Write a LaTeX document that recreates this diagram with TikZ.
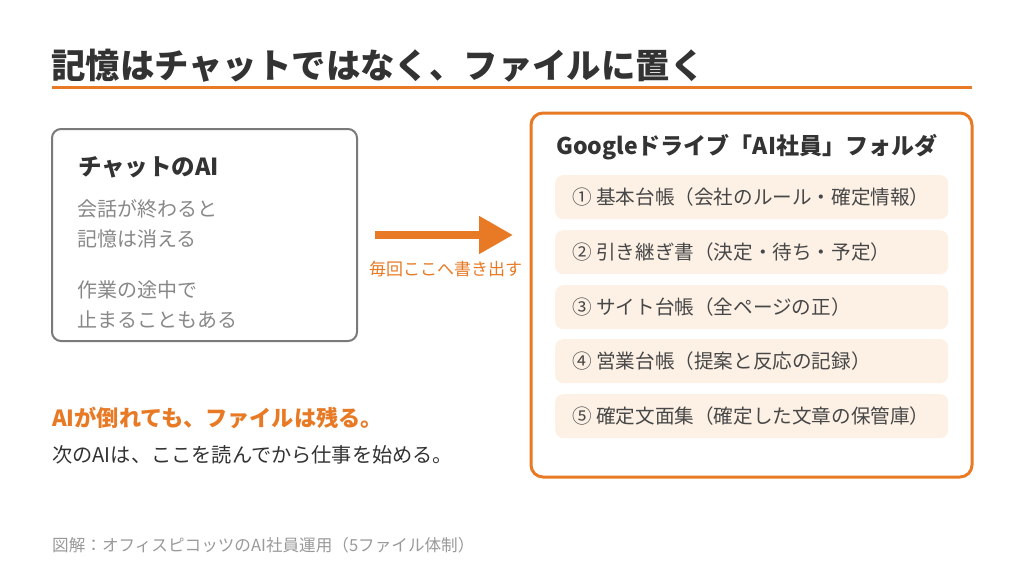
\documentclass[tikz,border=0pt]{standalone}
\usepackage{fontspec}
\setmainfont{Noto Sans CJK JP}
\usepackage{tikz}
\usetikzlibrary{arrows.meta,positioning}

\definecolor{accent}{HTML}{E87A25}
\definecolor{ink}{HTML}{333333}
\definecolor{soft}{HTML}{888888}
\definecolor{itembg}{HTML}{FDF1E6}

\newcommand{\fs}[1]{\fontsize{#1}{#1}\selectfont}

\begin{document}
\begin{tikzpicture}[x=1pt,y=-1pt]
		\tikzset{txt/.style={anchor=west,inner sep=0pt,text=ink}}
		\tikzset{graytxt/.style={txt,text=soft,font=\fs{20}}}
		\tikzset{itembox/.style={draw=none,fill=itembg,rounded corners=8pt,minimum width=393pt,minimum height=44pt,anchor=north west}}
		\tikzset{itemtxt/.style={txt,text=ink!90,font=\fs{19.6}}}
		\useasboundingbox[fill=white] (0,0) rectangle (1024,576);
		% title
		\node[txt,font=\fs{34.4}\bfseries] (title) at (51,66) {記憶はチャットではなく、ファイルに置く};
		\draw[accent,line width=3pt] (52,87) coordinate (ruleL) -- (972,87) coordinate (ruleR);
		% chat box
		\draw[soft!90!black,line width=2pt,rounded corners=9pt] (52,129) rectangle (357,341);
		\node[txt,font=\fs{23.5}\bfseries] (chat) at (78,167) {チャットのAI};
		\node[graytxt] (lost1) at (77,209) {会話が終わると};
		\node[graytxt] (lost2) at (77,239) {記憶は消える};
		\node[graytxt] (stop1) at (77,290) {作業の途中で};
		\node[graytxt] (stop2) at (77,320) {止まることもある};
		% arrow
		\coordinate (arrS) at (375,235);
		\coordinate (arrE) at (513,235);
		\draw[accent,line width=8pt,-{Triangle[length=34pt,width=36pt]}] (arrS) -- (arrE);
		\node[txt,text=accent,font=\fs{17}] (write) at (369,269) {毎回ここへ書き出す};
		% drive folder
		\draw[accent,line width=3pt,rounded corners=12pt] (531,113) rectangle (972,477);
		\node[txt,font=\fs{23}\bfseries] (drive) at (556,147) {Googleドライブ「AI社員」フォルダ};
		\node[itembox] (f1) at (555,175) {};
		\node[itembox] (f2) at (555,230) {};
		\node[itembox] (f3) at (555,285) {};
		\node[itembox] (f4) at (555,339) {};
		\node[itembox] (f5) at (555,394) {};
		\node[itemtxt] at ([xshift=17pt]f1.west) {① 基本台帳（会社のルール・確定情報）};
		\node[itemtxt] at ([xshift=17pt]f2.west) {② 引き継ぎ書（決定・待ち・予定）};
		\node[itemtxt] at ([xshift=17pt]f3.west) {③ サイト台帳（全ページの正）};
		\node[itemtxt] at ([xshift=17pt]f4.west) {④ 営業台帳（提案と反応の記録）};
		\node[itemtxt] at ([xshift=17pt]f5.west) {⑤ 確定文面集（確定した文章の保管庫）};
		% message
		\node[txt,text=accent,font=\fs{22.2}\bfseries] (survive) at (52,418) {AIが倒れても、ファイルは残る。};
		\node[txt,font=\fs{20.2}] (next) at (52,455) {次のAIは、ここを読んでから仕事を始める。};
		\node[txt,text=soft!85,font=\fs{16.6}] (src) at (52,545) {図解：オフィスピコッツのAI社員運用（5ファイル体制）};
\end{tikzpicture}
\end{document}
